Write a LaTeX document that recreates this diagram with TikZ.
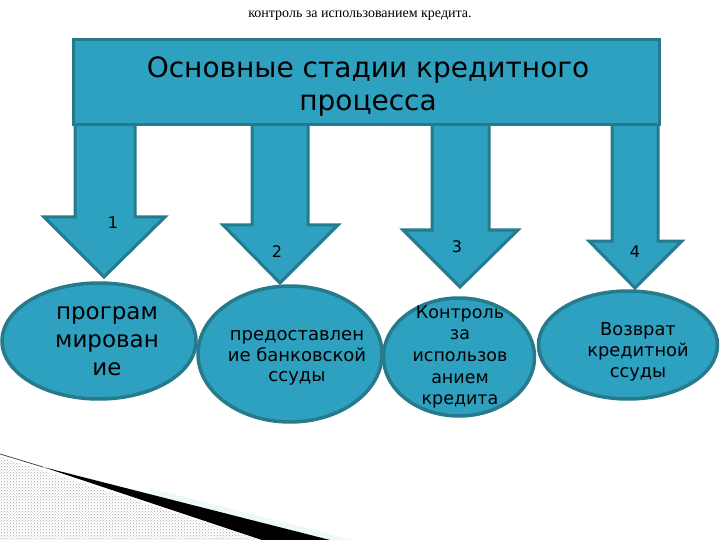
\documentclass[tikz,border=0pt]{standalone}
\usepackage{fontspec}
\setmainfont{DejaVu Sans}
\newfontfamily\serifsmall{Liberation Serif}
\usetikzlibrary{shapes.geometric,patterns}
\definecolor{tfill}{RGB}{46,160,192}
\definecolor{tline}{RGB}{38,122,140}
\begin{document}
\begin{tikzpicture}[x=1pt,y=-1pt,
  blk/.style={fill=tfill,draw=tline,line width=3pt,line join=miter},
  oval/.style={ellipse,fill=tfill,draw=tline,line width=3.5pt,inner sep=0pt},
  lbl/.style={align=center,inner sep=0pt,text=black}]
\useasboundingbox (0,0) rectangle (720,540);

% caption
\node[font=\serifsmall\fontsize{14}{16}\selectfont] (cap) at (360,16) {контроль за использованием кредита.};

% decoration bottom left
\fill[pattern=crosshatch dots, pattern color=gray!70] (0,457) -- (260,540) -- (0,540) -- cycle;
\fill[tfill!8] (150,488) -- (380,547) -- (380,553) -- (150,494) -- cycle;
\fill[black] (43,467) -- (330,540) -- (262,540) -- cycle;
\draw[black!70, line width=0.8pt] (0,454) -- (43,467);

% block arrows
\draw[blk] (75,120) -- (75,217) -- (44,217) -- (104,277) -- (165,217) -- (135,217) -- (135,120) -- cycle;
\draw[blk] (252,120) -- (252,225) -- (223,225) -- (280,283) -- (338,225) -- (308,225) -- (308,120) -- cycle;
\draw[blk] (432,120) -- (432,230) -- (403,230) -- (460,287) -- (518,230) -- (489,230) -- (489,120) -- cycle;
\draw[blk] (612,120) -- (612,241) -- (589,241) -- (635,288) -- (682,241) -- (658,241) -- (658,120) -- cycle;

% header box
\node[blk, anchor=north west, minimum width=586pt, minimum height=85pt, inner sep=0pt] (hdr) at (72,38) {};
\node[lbl, font=\fontsize{28}{33}\selectfont] (title) at (368,87) {Основные стадии кредитного\\процесса};

% numbers
\node[font=\fontsize{16}{18}\selectfont] (n1) at (113,223) {1};
\node[font=\fontsize{16}{18}\selectfont] (n2) at (277,252) {2};
\node[font=\fontsize{16}{18}\selectfont] (n3) at (457,247) {3};
\node[font=\fontsize{16}{18}\selectfont] (n4) at (635,252) {4};

% ellipses
\node[oval, minimum width=194pt, minimum height=116pt] (e1) at (99,341) {};
\node[oval, minimum width=184pt, minimum height=136pt] (e2) at (290,354) {};
\node[oval, minimum width=151pt, minimum height=118pt] (e3) at (459,357) {};
\node[oval, minimum width=179pt, minimum height=108pt] (e4) at (628,345) {};

\node[lbl, font=\fontsize{23}{28}\selectfont] (t1) at (107,341) {програм\\мирован\\ие};
\node[lbl, font=\fontsize{18}{20.5}\selectfont] (t2) at (297,358) {предоставлен\\ие банковской\\ссуды};
\node[lbl, font=\fontsize{17.5}{21.7}\selectfont] (t3) at (460,357) {Контроль\\за\\использов\\анием\\кредита};
\node[lbl, font=\fontsize{17.8}{21}\selectfont] (t4) at (638,352) {Возврат\\кредитной\\ссуды};
\end{tikzpicture}
\end{document}
